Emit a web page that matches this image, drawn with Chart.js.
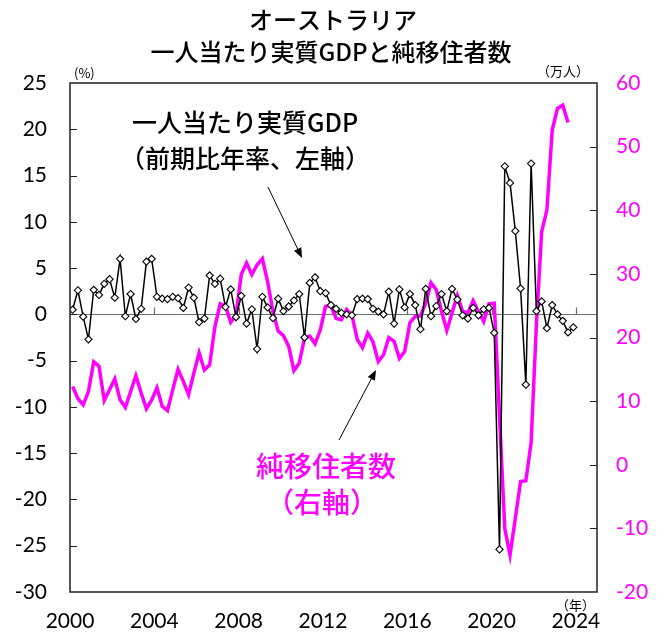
<!DOCTYPE html>
<html>
<head>
<meta charset="utf-8">
<script src="https://cdn.jsdelivr.net/npm/chart.js@4.4.1/dist/chart.umd.min.js"></script>
<style>
  html, body { margin: 0; padding: 0; background: #fff; }
  #wrap { width: 665px; height: 635px; }
</style>
</head>
<body>
<div id="wrap"><canvas id="chart" width="665" height="635"></canvas></div>
<script>
// quarterly data, 2000Q1 onwards
const startYear = 2000;

// 一人当たり実質GDP 前期比年率 (%), 2000Q1-2023Q4
const gdpPerCapita = [
  0.5, 2.6, -0.25, -2.7,   2.65, 2.1, 3.3, 3.8,
  1.8, 6.0, -0.2, 2.2,     -0.5, 0.6, 5.7, 6.0,
  1.9, 1.7, 1.65, 1.9,     1.75, 0.7, 2.9, 1.8,
  -0.85, -0.45, 4.2, 3.3,  3.85, 0.8, 2.7, -0.3,
  2.0, -1.0, 0.55, -3.75,  1.9, 0.75, -0.4, 1.7,
  0.35, 0.85, 1.5, 2.2,    -2.5, 3.4, 4.0, 2.5,
  2.3, 1.0, 0.6, 0.15,     0.0, -0.1, 1.65, 1.7,
  1.65, 0.6, 0.3, 0.0,     2.45, -1.0, 2.7, 0.75,
  2.2, 1.0, -1.6, 2.75,    -0.2, 0.9, 2.2, 0.35,
  2.75, 1.6, -0.1, -0.45,  0.7, -0.1, 0.55, 0.7,
  -2.0, -25.4, 16.0, 14.2, 9.0, 2.8, -7.6, 16.3,
  0.35, 1.4, -1.5, 1.0,    0.0, -0.7, -1.95, -1.4
];

// 純移住者数 (万人), 2000Q1-2023Q3
const netMigration = [
  12.3, 10.4, 9.4, 11.5,   16.2, 15.5, 10.1, 11.8,
  13.5, 10.2, 9.0, 11.5,   14.0, 11.3, 8.8, 10.2,
  12.1, 9.2, 8.5, 11.8,    15.0, 13.1, 11.0, 14.4,
  17.6, 14.9, 15.7, 21.7,  25.3, 24.9, 22.4, 23.5,
  29.9, 31.7, 29.9, 31.4,  32.4, 28.8, 24.1, 21.0,
  20.3, 18.6, 14.8, 16.0,  19.9, 20.2, 19.0, 21.2,
  24.9, 25.0, 23.0, 22.8,  24.4, 23.5, 19.7, 18.4,
  20.7, 19.3, 16.2, 17.3,  20.0, 19.4, 16.7, 17.8,
  22.3, 23.3, 23.4, 25.4,  28.6, 27.5, 24.1, 21.1,
  23.9, 26.6, 24.1, 23.9,  25.8, 24.1, 22.5, 25.3,
  25.4, 7.6, -10.0, -14.2, -8.4, -2.65, -2.5, 3.5,
  22.0, 36.6, 40.1, 52.6,  56.0, 56.5, 53.8
];

const yearTicks = [2000, 2004, 2008, 2012, 2016, 2020, 2024];

const numFont = "Lato, 'DejaVu Sans', sans-serif";
const jpFont = "'Noto Sans CJK JP', 'Noto Sans', sans-serif";
const magenta = '#FF00FF';

// quarter i -> middle of the quarter on the year axis
function toPoints(values) {
  return values.map((v, i) => ({ x: startYear + (i + 0.5) / 4, y: v }));
}

function arrow(ctx, x1, y1, x2, y2) {
  const a = Math.atan2(y2 - y1, x2 - x1);
  ctx.beginPath();
  ctx.moveTo(x1, y1);
  ctx.lineTo(x2 - 6 * Math.cos(a), y2 - 6 * Math.sin(a));
  ctx.stroke();
  ctx.beginPath();
  ctx.moveTo(x2, y2);
  ctx.lineTo(x2 - 10 * Math.cos(a) + 4 * Math.sin(a), y2 - 10 * Math.sin(a) - 4 * Math.cos(a));
  ctx.lineTo(x2 - 10 * Math.cos(a) - 4 * Math.sin(a), y2 - 10 * Math.sin(a) + 4 * Math.cos(a));
  ctx.closePath();
  ctx.fill();
}

const decor = {
  id: 'decor',
  beforeDatasetsDraw(chart) {
    const { ctx, chartArea: a, scales } = chart;
    const y0 = Math.round(scales.y.getPixelForValue(0)) + 0.5;
    ctx.save();
    ctx.strokeStyle = '#6e6e6e';
    ctx.lineWidth = 1.2;
    ctx.beginPath();
    ctx.moveTo(a.left, y0);
    ctx.lineTo(a.right, y0);
    yearTicks.slice(1).forEach(yr => {
      const x = Math.round(scales.x.getPixelForValue(yr)) + 0.5;
      ctx.moveTo(x, y0);
      ctx.lineTo(x, y0 - 7);
    });
    ctx.stroke();
    ctx.restore();
  },
  afterDraw(chart) {
    const { ctx, chartArea: a, scales } = chart;
    ctx.save();
    // frame
    ctx.strokeStyle = '#222';
    ctx.lineWidth = 1.5;
    ctx.strokeRect(a.left, a.top, a.right - a.left, a.bottom - a.top);
    // inward ticks
    ctx.lineWidth = 1.2;
    ctx.beginPath();
    for (let v = -25; v < 25; v += 5) {
      const y = Math.round(scales.y.getPixelForValue(v)) + 0.5;
      ctx.moveTo(a.left, y); ctx.lineTo(a.left + 7, y);
    }
    for (let v = -10; v < 60; v += 10) {
      const y = Math.round(scales.y1.getPixelForValue(v)) + 0.5;
      ctx.moveTo(a.right, y); ctx.lineTo(a.right - 7, y);
    }
    ctx.stroke();

    // title
    ctx.fillStyle = '#000';
    ctx.textAlign = 'center';
    ctx.textBaseline = 'middle';
    ctx.font = '500 24px ' + jpFont;
    ctx.fillText('オーストラリア', 333, 20);
    ctx.fillText('一人当たり実質GDPと純移住者数', 331, 52);

    // units
    ctx.font = '13px ' + jpFont;
    ctx.textAlign = 'left';
    ctx.fillText('(%)', 74, 73);
    ctx.fillText('（万人）', 537, 71);
    ctx.fillText('（年）', 556, 605);

    // series labels
    ctx.font = '500 25px ' + jpFont;
    ctx.fillText('一人当たり実質GDP', 132, 122);
    ctx.fillText('（前期比年率、左軸）', 120, 158);
    ctx.fillStyle = magenta;
    ctx.textAlign = 'center';
    ctx.font = '500 28px ' + jpFont;
    ctx.fillText('純移住者数', 326, 466);
    ctx.fillText('（右軸）', 322, 502);

    // arrows
    ctx.fillStyle = '#000';
    ctx.strokeStyle = '#000';
    ctx.lineWidth = 1;
    arrow(ctx, 268, 187, 302, 258);
    arrow(ctx, 339, 440, 376, 370);
    ctx.restore();
  }
};

new Chart(document.getElementById('chart'), {
  type: 'line',
  data: {
    datasets: [
      {
        label: '一人当たり実質GDP',
        data: toPoints(gdpPerCapita),
        yAxisID: 'y',
        borderColor: '#000',
        borderWidth: 1.5,
        pointStyle: 'rectRot',
        pointRadius: 3.6,
        pointBackgroundColor: '#fff',
        pointBorderColor: '#000',
        pointBorderWidth: 1.1,
        tension: 0,
        order: 1
      },
      {
        label: '純移住者数',
        data: toPoints(netMigration),
        yAxisID: 'y1',
        borderColor: magenta,
        borderWidth: 3.5,
        pointRadius: 0,
        tension: 0,
        order: 2
      }
    ]
  },
  options: {
    responsive: false,
    animation: false,
    layout: { padding: { top: 83, left: 0, right: 0, bottom: 0 } },
    plugins: { legend: { display: false }, tooltip: { enabled: false } },
    scales: {
      x: {
        type: 'linear',
        min: 2000,
        max: 2025,
        afterBuildTicks: s => { s.ticks = yearTicks.map(v => ({ value: v })); },
        afterFit: s => { s.height = 43; },
        grid: { display: false, drawTicks: false },
        border: { display: false },
        ticks: {
          padding: 17,
          color: '#000',
          font: { family: numFont, size: 21 },
          maxRotation: 0,
          callback: v => String(v)
        }
      },
      y: {
        position: 'left',
        min: -30,
        max: 25,
        afterFit: s => { s.width = 70; },
        grid: { display: false, drawTicks: false },
        border: { display: false },
        ticks: { stepSize: 5, padding: 23, color: '#000', font: { family: numFont, size: 21 } }
      },
      y1: {
        position: 'right',
        min: -20,
        max: 60,
        afterFit: s => { s.width = 68; },
        grid: { display: false, drawTicks: false },
        border: { display: false },
        ticks: { stepSize: 10, padding: 19, color: magenta, font: { family: numFont, size: 21 } }
      }
    }
  },
  plugins: [decor]
});
</script>
</body>
</html>
